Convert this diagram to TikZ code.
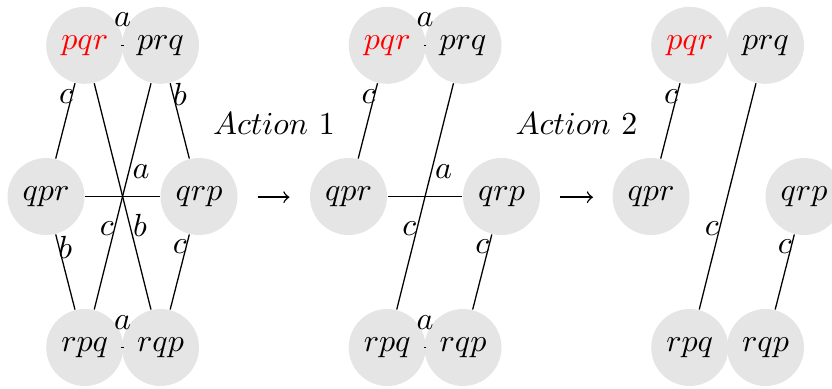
\documentclass[tikz,border=0pt]{standalone}
\begin{document}
\begin{tikzpicture}[x=0.3125pt,y=-0.3125pt,
  perm/.style={circle,fill=black!10,minimum size=24.06pt,inner sep=0pt},
  lab/.style={inner sep=0pt,anchor=center},
  edg/.style={draw=black,line width=0.4pt},
  actarrow/.style={->,line width=0.45pt}]
\useasboundingbox (0,0) rectangle (832,388);
% ---------- graph 1 ----------
\node[perm] (apqr) at (84.7,45.3) {$\color{red}pqr$};
\node[perm] (aprq) at (160.5,45.3) {$prq$};
\node[perm] (aqpr) at (46,196.5) {$qpr$};
\node[perm] (aqrp) at (199,196.5) {$qrp$};
\node[perm] (arpq) at (84.7,347.5) {$rpq$};
\node[perm] (arqp) at (160.5,347.5) {$rqp$};
\draw[edg] (apqr) -- node[lab,midway,yshift=7.9pt] {$a$} (aprq);
\draw[edg] (apqr) -- node[lab,pos=0.18,xshift=-1.75pt] {$c$} (aqpr);
\draw[edg] (aprq) -- node[lab,pos=0.15,xshift=2.2pt] {$b$} (aqrp);
\draw[edg] (apqr) -- node[lab,pos=0.63,xshift=3.1pt] {$b$} (arqp);
\draw[edg] (aprq) -- node[lab,pos=0.643,xshift=-2.4pt] {$c$} (arpq);
\draw[edg] (aqpr) -- node[lab,midway,xshift=5.8pt,yshift=7.75pt] {$a$} (aqrp);
\draw[edg] (aqpr) -- node[lab,pos=0.168,xshift=1.95pt] {$b$} (arpq);
\draw[edg] (aqrp) -- node[lab,pos=0.168,xshift=-1.95pt] {$c$} (arqp);
\draw[edg] (arpq) -- node[lab,midway,yshift=7.9pt] {$a$} (arqp);
% arrow 1
\node (act1) at (274,124) {$Action\ 1$};
\coordinate (arr1s) at (257.5,197.2);
\coordinate (arr1e) at (289.5,197.2);
\draw[actarrow] (arr1s) -- (arr1e);
% ---------- graph 2 ----------
\node[perm] (bpqr) at (387.2,45.3) {$\color{red}pqr$};
\node[perm] (bprq) at (463,45.3) {$prq$};
\node[perm] (bqpr) at (348.5,196.5) {$qpr$};
\node[perm] (bqrp) at (501.5,196.5) {$qrp$};
\node[perm] (brpq) at (387.2,347.5) {$rpq$};
\node[perm] (brqp) at (463,347.5) {$rqp$};
\draw[edg] (bpqr) -- node[lab,midway,yshift=7.9pt] {$a$} (bprq);
\draw[edg] (bpqr) -- node[lab,pos=0.18,xshift=-1.75pt] {$c$} (bqpr);
\draw[edg] (bprq) -- node[lab,pos=0.643,xshift=-2.4pt] {$c$} (brpq);
\draw[edg] (bqpr) -- node[lab,midway,xshift=5.8pt,yshift=7.75pt] {$a$} (bqrp);
\draw[edg] (bqrp) -- node[lab,pos=0.168,xshift=-1.95pt] {$c$} (brqp);
\draw[edg] (brpq) -- node[lab,midway,yshift=7.9pt] {$a$} (brqp);
% arrow 2
\node (act2) at (576.5,124) {$Action\ 2$};
\coordinate (arr2s) at (560,197.2);
\coordinate (arr2e) at (593,197.2);
\draw[actarrow] (arr2s) -- (arr2e);
% ---------- graph 3 ----------
\node[perm] (cpqr) at (689.7,45.3) {$\color{red}pqr$};
\node[perm] (cprq) at (765.5,45.3) {$prq$};
\node[perm] (cqpr) at (651,196.5) {$qpr$};
\node[perm] (cqrp) at (804,196.5) {$qrp$};
\node[perm] (crpq) at (689.7,347.5) {$rpq$};
\node[perm] (crqp) at (765.5,347.5) {$rqp$};
\draw[edg] (cpqr) -- node[lab,pos=0.18,xshift=-1.75pt] {$c$} (cqpr);
\draw[edg] (cprq) -- node[lab,pos=0.643,xshift=-2.4pt] {$c$} (crpq);
\draw[edg] (cqrp) -- node[lab,pos=0.168,xshift=-1.95pt] {$c$} (crqp);
\end{tikzpicture}
\end{document}
